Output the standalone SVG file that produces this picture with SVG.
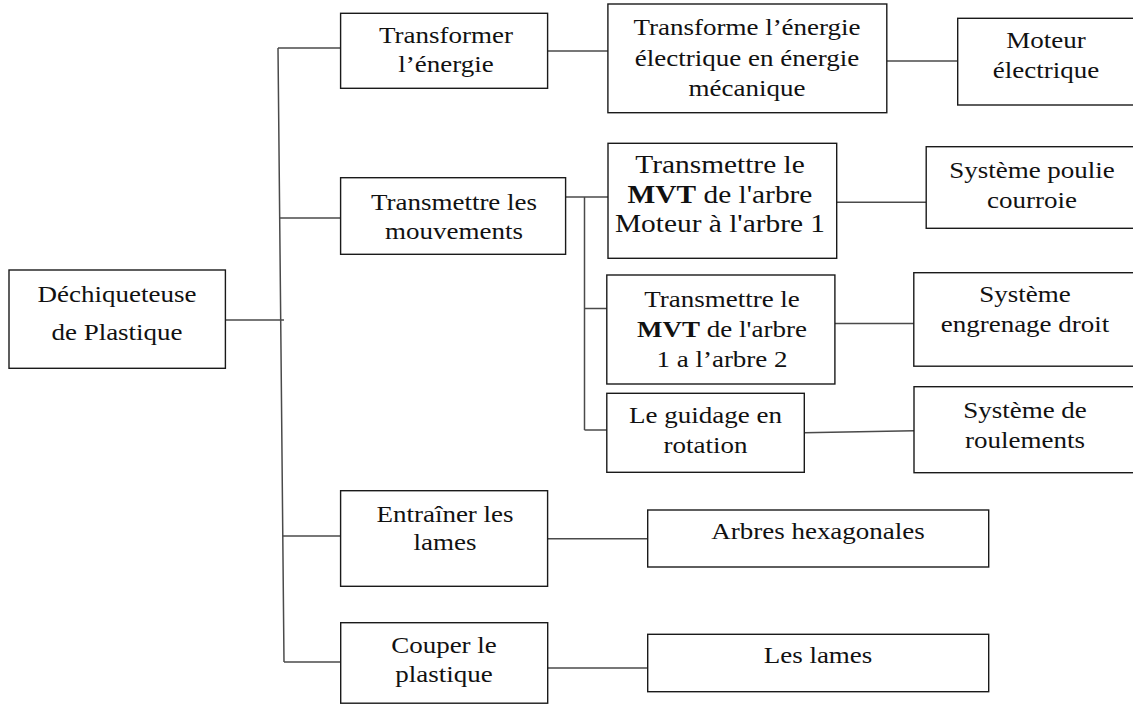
<svg xmlns="http://www.w3.org/2000/svg" width="1133" height="704" viewBox="0 0 1133 704">
<style>
.box{fill:#fff;stroke:#1a1a1a;stroke-width:1.4}
.con{fill:none;stroke:#4a4a4a;stroke-width:1.5}
</style>
<rect width="1133" height="704" fill="#fff"/>
<g id="connectors" class="con">
<path d="M225,320 H284"/>
<path d="M278,48 L281,350 L284,662"/>
<path d="M278,48 H341"/>
<path d="M279,218 H341"/>
<path d="M282.5,536 H341"/>
<path d="M284,662 H341"/>
<path d="M548,51 H608"/>
<path d="M887,61 H958"/>
<path d="M566,197 H608"/>
<path d="M584.5,197 V430"/>
<path d="M584.5,308.5 H607"/>
<path d="M584.5,430 H607"/>
<path d="M836.7,202.3 H926"/>
<path d="M835,323.5 H914"/>
<path d="M804,432.7 L914,430.7"/>
<path d="M548,538.7 H648"/>
<path d="M548,668 H648"/>
</g>
<g font-family="Liberation Serif, Times New Roman, DejaVu Serif, serif" font-size="22.5" fill="#111" text-anchor="middle">
<g id="root">
<rect class="box" x="9" y="270" width="216.4" height="98.3"/>
<text transform="translate(117,302) scale(1.2,1)"><tspan x="0">Déchiqueteuse</tspan><tspan x="0" dy="38">de Plastique</tspan></text>
</g>
<g id="n-transformer">
<rect class="box" x="340.6" y="13.3" width="207" height="75"/>
<text transform="translate(446,43) scale(1.2,1)"><tspan x="0">Transformer</tspan><tspan x="0" dy="29">l’énergie</tspan></text>
</g>
<g id="n-transmettre">
<rect class="box" x="340.6" y="177.7" width="225" height="76.6"/>
<text transform="translate(454,210) scale(1.2,1)"><tspan x="0">Transmettre les</tspan><tspan x="0" dy="29">mouvements</tspan></text>
</g>
<g id="n-entrainer">
<rect class="box" x="340.6" y="490.7" width="207" height="95.6"/>
<text transform="translate(445,521.7) scale(1.2,1)"><tspan x="0">Entraîner les</tspan><tspan x="0" dy="28.5">lames</tspan></text>
</g>
<g id="n-couper">
<rect class="box" x="340.7" y="622.7" width="207" height="80.5"/>
<text transform="translate(444,653.3) scale(1.2,1)"><tspan x="0">Couper le</tspan><tspan x="0" dy="28.5">plastique</tspan></text>
</g>
<g id="n-transforme">
<rect class="box" x="607.9" y="4" width="278.9" height="108.7"/>
<text transform="translate(747,35) scale(1.2,1)"><tspan x="0">Transforme l’énergie</tspan><tspan x="0" dy="31">électrique en énergie</tspan><tspan x="0" dy="30">mécanique</tspan></text>
</g>
<g id="n-moteur">
<rect class="box" x="957.7" y="18.3" width="190" height="86.7"/>
<text transform="translate(1046,48.3) scale(1.2,1)"><tspan x="0">Moteur</tspan><tspan x="0" dy="30">électrique</tspan></text>
</g>
<g id="n-mvt1">
<rect class="box" x="608" y="143.3" width="228.7" height="115"/>
<text font-size="24.5" transform="translate(720,173) scale(1.2,1)"><tspan x="0">Transmettre le</tspan><tspan x="0" dy="30"><tspan font-weight="bold">MVT</tspan> de l'arbre</tspan><tspan x="0" dy="29">Moteur à l'arbre 1</tspan></text>
</g>
<g id="n-poulie">
<rect class="box" x="926.2" y="146.7" width="220" height="81.6"/>
<text transform="translate(1032,178.3) scale(1.2,1)"><tspan x="0">Système poulie</tspan><tspan x="0" dy="30">courroie</tspan></text>
</g>
<g id="n-mvt2">
<rect class="box" x="606.8" y="275" width="228.1" height="109"/>
<text transform="translate(722,306.7) scale(1.2,1)"><tspan x="0">Transmettre le</tspan><tspan x="0" dy="30"><tspan font-weight="bold">MVT</tspan> de l'arbre</tspan><tspan x="0" dy="30">1 a l’arbre 2</tspan></text>
</g>
<g id="n-engrenage">
<rect class="box" x="913.8" y="272.7" width="230" height="93.5"/>
<text transform="translate(1025,301.7) scale(1.2,1)"><tspan x="0">Système</tspan><tspan x="0" dy="30">engrenage droit</tspan></text>
</g>
<g id="n-guidage">
<rect class="box" x="606.8" y="393.3" width="197.5" height="79"/>
<text transform="translate(705.5,422.7) scale(1.2,1)"><tspan x="0">Le guidage en</tspan><tspan x="0" dy="30">rotation</tspan></text>
</g>
<g id="n-roulements">
<rect class="box" x="914" y="386.7" width="230" height="86"/>
<text transform="translate(1025,418) scale(1.2,1)"><tspan x="0">Système de</tspan><tspan x="0" dy="30">roulements</tspan></text>
</g>
<g id="n-arbres">
<rect class="box" x="647.7" y="510" width="341" height="57"/>
<text transform="translate(818,539) scale(1.2,1)">Arbres hexagonales</text>
</g>
<g id="n-lames">
<rect class="box" x="647.7" y="634.3" width="341" height="57.4"/>
<text transform="translate(818,663) scale(1.2,1)">Les lames</text>
</g>
</g>
</svg>
